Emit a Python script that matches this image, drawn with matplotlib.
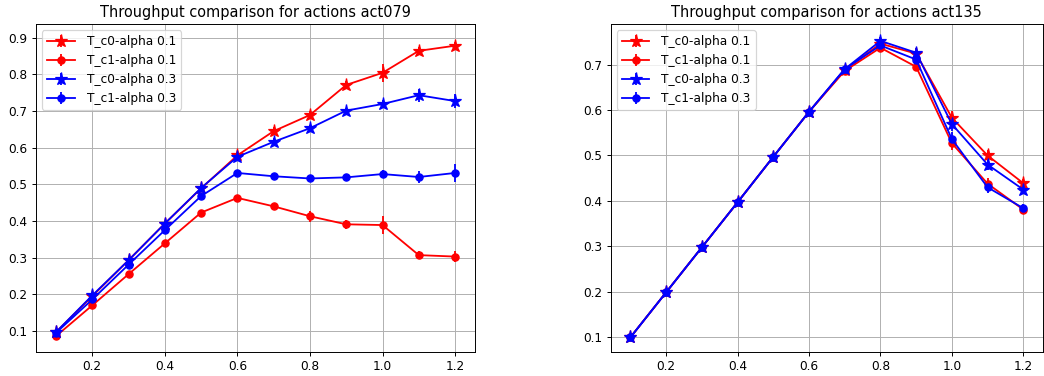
import matplotlib
matplotlib.use("Agg")
import matplotlib.pyplot as plt
import numpy as np

x = [0.1, 0.2, 0.3, 0.4, 0.5, 0.6, 0.7, 0.8, 0.9, 1.0, 1.1, 1.2]

# Left: act079
l_c0_a01 = [0.097, 0.195, 0.293, 0.393, 0.489, 0.579, 0.645, 0.689, 0.771, 0.804, 0.864, 0.878]
l_c1_a01 = [0.086, 0.170, 0.255, 0.339, 0.423, 0.463, 0.440, 0.413, 0.391, 0.389, 0.307, 0.303]
l_c0_a03 = [0.097, 0.197, 0.293, 0.393, 0.490, 0.575, 0.616, 0.653, 0.701, 0.719, 0.743, 0.727]
l_c1_a03 = [0.095, 0.186, 0.281, 0.375, 0.468, 0.531, 0.522, 0.516, 0.519, 0.528, 0.520, 0.531]
l_e_c0_a01 = [0.004, 0.005, 0.006, 0.007, 0.008, 0.008, 0.010, 0.012, 0.012, 0.025, 0.010, 0.010]
l_e_c1_a01 = [0.004, 0.005, 0.005, 0.006, 0.006, 0.006, 0.007, 0.015, 0.012, 0.024, 0.010, 0.014]
l_e_c0_a03 = [0.004, 0.005, 0.006, 0.007, 0.008, 0.008, 0.010, 0.010, 0.008, 0.010, 0.018, 0.020]
l_e_c1_a03 = [0.004, 0.005, 0.005, 0.006, 0.006, 0.006, 0.006, 0.006, 0.008, 0.010, 0.016, 0.024]

# Right: act135
r_c0_a01 = [0.100, 0.199, 0.298, 0.397, 0.497, 0.596, 0.688, 0.746, 0.724, 0.583, 0.500, 0.439]
r_c1_a01 = [0.100, 0.199, 0.298, 0.397, 0.497, 0.596, 0.686, 0.737, 0.695, 0.527, 0.438, 0.381]
r_c0_a03 = [0.100, 0.199, 0.298, 0.397, 0.497, 0.596, 0.690, 0.752, 0.726, 0.569, 0.480, 0.425]
r_c1_a03 = [0.100, 0.199, 0.298, 0.397, 0.497, 0.596, 0.690, 0.742, 0.711, 0.536, 0.430, 0.384]
r_err = [0.003, 0.003, 0.004, 0.005, 0.005, 0.006, 0.007, 0.008, 0.010, 0.015, 0.012, 0.010]

labels = ["T_c0-alpha 0.1", "T_c1-alpha 0.1", "T_c0-alpha 0.3", "T_c1-alpha 0.3"]
titles = ["Throughput comparison for actions act079", "Throughput comparison for actions act135"]

DPI = 87
fig = plt.figure(figsize=(1044 / DPI, 376 / DPI), dpi=DPI)
ax1 = fig.add_axes([0.0345, 0.064, 0.4205, 0.872])
ax2 = fig.add_axes([0.585, 0.064, 0.414, 0.872])

def draw(ax, series, errs, title):
    styles = [("red", "*", 11), ("red", "o", 6), ("blue", "*", 11), ("blue", "o", 6)]
    for (c, m, ms), y, e, lab in zip(styles, series, errs, labels):
        ax.errorbar(x, y, yerr=e, color=c, marker=m, markersize=ms, label=lab)
    ax.grid(True)
    ax.set_title(title)
    ax.legend(loc="upper left", handlelength=2.3, handletextpad=1.0)
    ax.set_xticks([0.2, 0.4, 0.6, 0.8, 1.0, 1.2])

draw(ax1, [l_c0_a01, l_c1_a01, l_c0_a03, l_c1_a03],
     [l_e_c0_a01, l_e_c1_a01, l_e_c0_a03, l_e_c1_a03], titles[0])
ax1.set_ylim(0.043, 0.937)
draw(ax2, [r_c0_a01, r_c1_a01, r_c0_a03, r_c1_a03],
     [r_err, r_err, r_err, r_err], titles[1])
ax2.set_ylim(0.068, 0.789)

fig.savefig("out.png", dpi=DPI)
